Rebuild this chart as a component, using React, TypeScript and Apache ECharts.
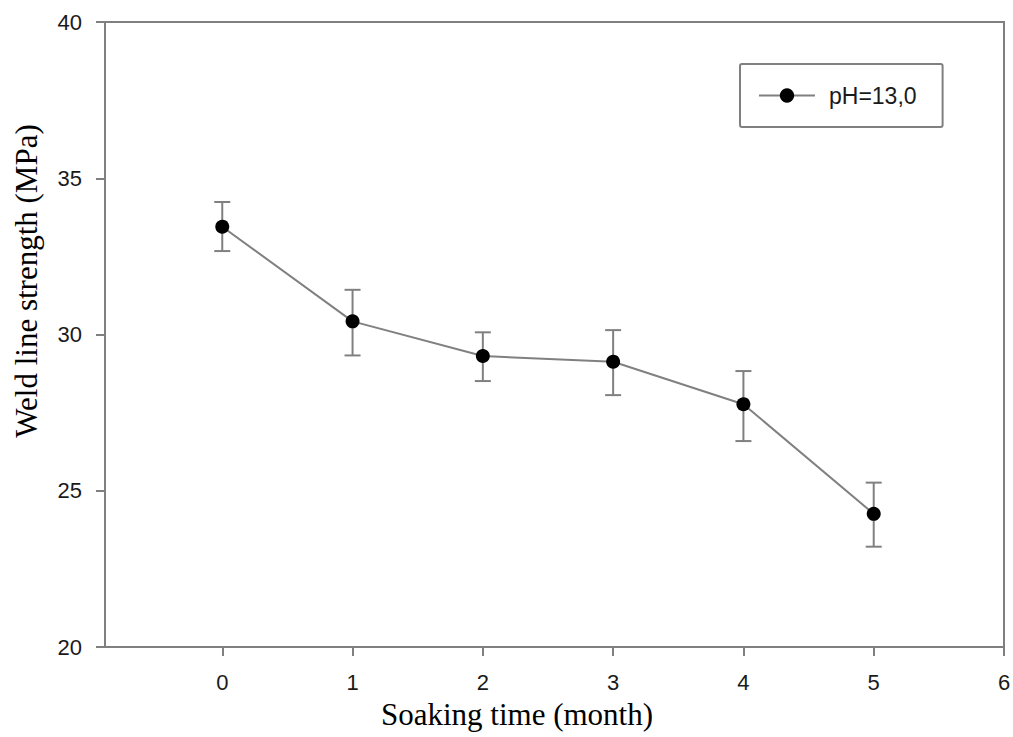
import React, { useEffect, useRef } from "react";
import * as echarts from "echarts";

const months = [0, 1, 2, 3, 4, 5];
const strength = [33.45, 30.42, 29.31, 29.13, 27.77, 24.26];
const errUpper = [34.24, 31.43, 30.07, 30.14, 28.83, 25.26];
const errLower = [32.67, 29.33, 28.51, 28.06, 26.59, 23.21];
const xTickValues = [0, 1, 2, 3, 4, 5, 6];
const seriesName = "pH=13,0";
const xTitle = "Soaking time (month)";
const yTitle = "Weld line strength (MPa)";

const GRAY = "#808080";
const SANS = "Liberation Sans, Arial, sans-serif";
const SERIF = "Liberation Serif, Times New Roman, serif";

export default function App() {
  const ref = useRef<HTMLDivElement>(null);
  useEffect(() => {
    if (!ref.current) return;
    const chart = echarts.init(ref.current, undefined, { renderer: "svg" });
    const lineData = months.map((m, i) => [m, strength[i]]);
    const errData = months.map((m, i) => [m, errUpper[i], errLower[i]]);
    chart.setOption({
      animation: false,
      backgroundColor: "#ffffff",
      grid: {
        left: 105,
        right: 9,
        top: 22,
        bottom: 90,
        show: true,
        borderColor: GRAY,
        borderWidth: 2,
        backgroundColor: "transparent",
        containLabel: false,
        outerBoundsMode: "none",
      },
      legend: {
        left: 740,
        top: 64,
        orient: "horizontal",
        borderColor: GRAY,
        borderWidth: 2,
        borderRadius: 2,
        padding: [20, 26, 20, 18],
        itemWidth: 56,
        itemHeight: 18,
        itemGap: 0,
        textStyle: { fontSize: 23, color: "#1a1a1a", fontFamily: SANS, padding: [0, 0, 0, 9] },
        data: [seriesName],
      },
      graphic: [
        {
          type: "text",
          x: 517,
          y: 714,
          style: {
            text: xTitle,
            fontSize: 31,
            fontFamily: SERIF,
            fill: "#000",
            align: "center",
            verticalAlign: "middle",
          },
        },
        {
          type: "text",
          x: 26,
          y: 281,
          rotation: Math.PI / 2,
          style: {
            text: yTitle,
            fontSize: 31,
            fontFamily: SERIF,
            fill: "#000",
            align: "center",
            verticalAlign: "middle",
          },
        },
      ],
      xAxis: {
        type: "value",
        min: -0.9,
        max: 6,
        axisLine: { show: true, onZero: false, lineStyle: { color: GRAY, width: 2 } },
        axisTick: { show: true, length: 9, customValues: xTickValues, lineStyle: { color: GRAY, width: 2 } },
        axisLabel: { customValues: xTickValues, fontSize: 22, color: "#1a1a1a", fontFamily: SANS, margin: 24 },
        splitLine: { show: false },
      },
      yAxis: {
        type: "value",
        min: 20,
        max: 40,
        interval: 5,
        axisLine: { show: true, onZero: false, lineStyle: { color: GRAY, width: 2 } },
        axisTick: { show: true, length: 9, lineStyle: { color: GRAY, width: 2 } },
        axisLabel: { fontSize: 22, color: "#1a1a1a", fontFamily: SANS, margin: 23 },
        splitLine: { show: false },
      },
      series: [
        {
          type: "custom",
          name: "err",
          z: 1,
          data: errData,
          renderItem: (params: any, api: any) => {
            const x = api.value(0);
            const hi = api.coord([x, api.value(1)]);
            const lo = api.coord([x, api.value(2)]);
            const hw = 8;
            const style = { stroke: GRAY, lineWidth: 2 };
            return {
              type: "group",
              children: [
                { type: "line", shape: { x1: hi[0], y1: hi[1], x2: lo[0], y2: lo[1] }, style },
                { type: "line", shape: { x1: hi[0] - hw, y1: hi[1], x2: hi[0] + hw, y2: hi[1] }, style },
                { type: "line", shape: { x1: lo[0] - hw, y1: lo[1], x2: lo[0] + hw, y2: lo[1] }, style },
              ],
            };
          },
        },
        {
          type: "line",
          name: seriesName,
          z: 3,
          data: lineData,
          symbol: "circle",
          symbolSize: 14,
          itemStyle: { color: "#000" },
          lineStyle: { color: GRAY, width: 2 },
        },
      ],
    });
    return () => chart.dispose();
  }, []);
  return (
    <div
      ref={ref}
      style={{ position: "fixed", left: 0, top: 0, width: 1013, height: 737, background: "#fff" }}
    />
  );
}
